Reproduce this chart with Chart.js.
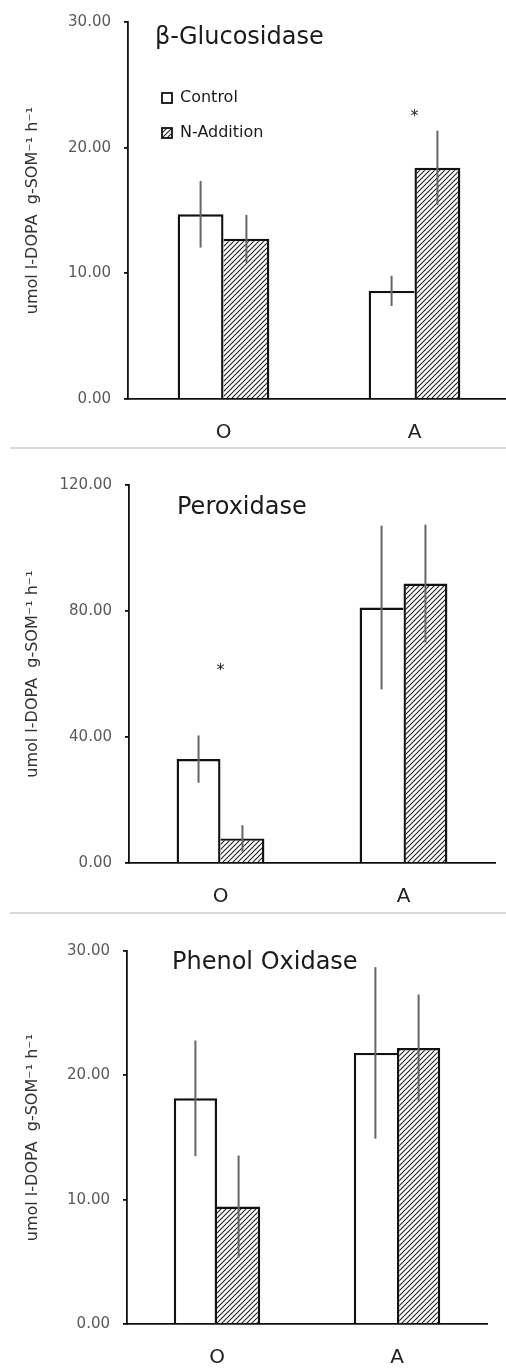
<!DOCTYPE html>
<html>
<head>
<meta charset="utf-8">
<script src="https://cdn.jsdelivr.net/npm/chart.js@4.4.0/dist/chart.umd.min.js"></script>
<style>
html, body { margin: 0; padding: 0; background: #fff; overflow: hidden; }
body { width: 506px; height: 1368px; position: relative; }
canvas { position: absolute; left: 0; }
.sep { position: absolute; left: 10px; width: 496px; height: 2px; background: #d9d9d9; }
</style>
</head>
<body>
<canvas id="c1" width="512" height="446" style="top:0"></canvas>
<div class="sep" style="top:447px"></div>
<canvas id="c2" width="506" height="462" style="top:450px"></canvas>
<div class="sep" style="top:912px"></div>
<canvas id="c3" width="506" height="453" style="top:915px"></canvas>
<script>
const categories = ['O', 'A'];
const yTitle = 'umol l-DOPA  g-SOM⁻¹ h⁻¹';

// beta-glucosidase
const glucTicks = [0, 10, 20, 30];
const glucControl = [14.7, 8.6];
const glucControlErr = [2.65, 1.2];
const glucNAdd = [12.75, 18.4];
const glucNAddErr = [1.9, 2.95];
const glucStars = [null, 22.8];

// peroxidase
const peroxTicks = [0, 40, 80, 120];
const peroxControl = [33.0, 81.1];
const peroxControlErr = [7.5, 26.0];
const peroxNAdd = [7.8, 88.7];
const peroxNAddErr = [4.2, 18.7];
const peroxStars = [62.6, null];

// phenol oxidase
const phenolTicks = [0, 10, 20, 30];
const phenolControl = [18.15, 21.8];
const phenolControlErr = [4.65, 6.9];
const phenolNAdd = [9.45, 22.2];
const phenolNAddErr = [4.1, 4.3];
const phenolStars = [null, null];

const FONT = 'DejaVu Sans';
const BW = 2.4;

function makeHatch() {
    const s = 5;
    const c = document.createElement('canvas');
    c.width = s; c.height = s;
    const p = c.getContext('2d');
    p.fillStyle = '#fff';
    p.fillRect(0, 0, s, s);
    p.strokeStyle = '#222';
    p.lineWidth = 1.1;
    p.beginPath();
    p.moveTo(0, s); p.lineTo(s, 0);
    p.moveTo(-1, 1); p.lineTo(1, -1);
    p.moveTo(s - 1, s + 1); p.lineTo(s + 1, s - 1);
    p.stroke();
    return p.createPattern(c, 'repeat');
}
const hatch = makeHatch();

// error bars, stars, panel title and (first panel) legend
function extras(cfg) {
    return {
        id: 'extras',
        afterDatasetsDraw(chart) {
            const ctx = chart.ctx, xs = chart.scales.x, ys = chart.scales.y, area = chart.chartArea;
            ctx.save();
            ctx.strokeStyle = '#666';
            ctx.lineWidth = 2;
            chart.data.datasets.forEach((ds, di) => {
                const meta = chart.getDatasetMeta(di);
                ds.errors.forEach((e, i) => {
                    const bar = meta.data[i];
                    ctx.beginPath();
                    ctx.moveTo(bar.x, ys.getPixelForValue(ds.data[i] + e));
                    ctx.lineTo(bar.x, ys.getPixelForValue(ds.data[i] - e));
                    ctx.stroke();
                });
            });

            ctx.fillStyle = '#222';
            ctx.font = '16px "' + FONT + '"';
            ctx.textAlign = 'center';
            ctx.textBaseline = 'alphabetic';
            cfg.stars.forEach((v, i) => {
                if (v == null) return;
                ctx.fillText('*', xs.getPixelForValue(i), ys.getPixelForValue(v) + 9);
            });

            ctx.textAlign = 'left';
            ctx.textBaseline = 'middle';
            ctx.fillStyle = '#1a1a1a';
            ctx.font = '24px "' + FONT + '"';
            ctx.fillText(cfg.title, area.left + cfg.titleDx, area.top + cfg.titleDy);

            if (cfg.legend) {
                ctx.font = '16px "' + FONT + '"';
                chart.data.datasets.forEach((ds, di) => {
                    const bx = area.left + 34, cy = area.top + 76 + di * 35;
                    ctx.fillStyle = ds.backgroundColor;
                    ctx.fillRect(bx, cy - 5, 10, 10);
                    ctx.strokeStyle = '#111';
                    ctx.lineWidth = 1.8;
                    ctx.strokeRect(bx, cy - 5, 10, 10);
                    ctx.fillStyle = '#1a1a1a';
                    ctx.fillText(ds.label, bx + 18, cy);
                });
            }
            ctx.restore();
        }
    };
}

function makePanel(id, p) {
    // the taller bar of each pair draws the shared middle edge
    const ctrlTaller = i => p.control[i] >= p.nadd[i];
    new Chart(document.getElementById(id), {
        type: 'bar',
        data: {
            labels: categories,
            datasets: [
                {
                    label: 'Control', data: p.control, errors: p.controlErr,
                    backgroundColor: '#fff', borderColor: '#111',
                    borderWidth: c => ({ top: BW, left: BW, right: ctrlTaller(c.dataIndex) ? BW : 0, bottom: 0 })
                },
                {
                    label: 'N-Addition', data: p.nadd, errors: p.naddErr,
                    backgroundColor: hatch, borderColor: '#111',
                    borderWidth: c => ({ top: BW, left: ctrlTaller(c.dataIndex) ? 0 : BW, right: BW, bottom: 0 })
                }
            ]
        },
        options: {
            responsive: false,
            animation: false,
            events: [],
            categoryPercentage: 0.48,
            barPercentage: 1,
            layout: { padding: { top: p.padTop, right: p.padRight, bottom: 0, left: 0 } },
            plugins: { legend: { display: false }, tooltip: { enabled: false } },
            scales: {
                x: {
                    afterFit: s => { s.height = p.xh; },
                    grid: { display: false, drawTicks: false },
                    border: { display: true, color: '#111', width: 1.8 },
                    ticks: { padding: 22, color: '#222', font: { family: FONT, size: 20 } }
                },
                y: {
                    min: 0,
                    max: p.ticks[p.ticks.length - 1],
                    afterBuildTicks: s => { s.ticks = p.ticks.map(v => ({ value: v })); },
                    afterFit: s => { s.width = p.left; },
                    grid: { drawOnChartArea: false, drawTicks: true, tickLength: 4, color: '#111', lineWidth: 1.8 },
                    border: { display: true, color: '#111', width: 1.8 },
                    ticks: {
                        padding: 13, color: '#595959',
                        font: { family: FONT, size: 15 },
                        callback: v => Number(v).toFixed(2)
                    },
                    title: {
                        display: true, text: yTitle, color: '#333',
                        font: { family: FONT, size: 16 },
                        padding: { top: 23, bottom: 0 }
                    }
                }
            }
        },
        plugins: [extras(p)]
    });
}

makePanel('c1', {
    control: glucControl, controlErr: glucControlErr, nadd: glucNAdd, naddErr: glucNAddErr,
    ticks: glucTicks, stars: glucStars, title: 'β-Glucosidase', titleDx: 27, titleDy: 16, legend: true,
    padTop: 21, padRight: 2, left: 128, xh: 47
});
makePanel('c2', {
    control: peroxControl, controlErr: peroxControlErr, nadd: peroxNAdd, naddErr: peroxNAddErr,
    ticks: peroxTicks, stars: peroxStars, title: 'Peroxidase', titleDx: 48, titleDy: 23, legend: false,
    padTop: 35, padRight: 11, left: 129, xh: 49
});
makePanel('c3', {
    control: phenolControl, controlErr: phenolControlErr, nadd: phenolNAdd, naddErr: phenolNAddErr,
    ticks: phenolTicks, stars: phenolStars, title: 'Phenol Oxidase', titleDx: 45, titleDy: 12, legend: false,
    padTop: 36, padRight: 19, left: 127, xh: 44
});
</script>
</body>
</html>
